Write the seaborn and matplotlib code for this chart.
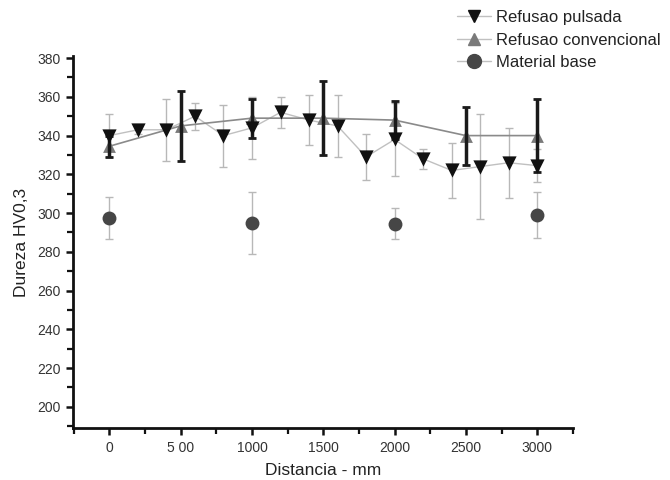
import matplotlib
matplotlib.use("Agg")
import matplotlib.pyplot as plt
from matplotlib.lines import Line2D
from matplotlib.ticker import MultipleLocator
import seaborn as sns
import pandas as pd

# Data
x_puls = [0, 200, 400, 600, 800, 1000, 1200, 1400, 1600, 1800, 2000, 2200, 2400, 2600, 2800, 3000]
y_puls = [340, 343, 343, 350, 340, 344, 352, 348, 345, 329, 338, 328, 322, 324, 326, 324.5]
e_puls = [11, 2, 16, 7, 16, 16, 8, 13, 16, 12, 19, 5, 14, 27, 18, 8.5]

x_conv = [0, 500, 1000, 1500, 2000, 2500, 3000]
y_conv = [334.5, 345, 349, 349, 348, 340, 340]
e_conv = [5.5, 18, 10, 19, 10, 15, 19]

x_base = [0, 1000, 2000, 3000]
y_base = [297.5, 295, 294.5, 299]
e_base = [11, 16, 8, 12]

labels = ["Refusao pulsada", "Refusao convencional", "Material base"]
xtick_labels = ["0", "5 00", "1000", "1500", "2000", "2500", "3000"]

sns.set_style("ticks")
plt.rcParams['font.family'] = ['Liberation Sans', 'DejaVu Sans']

fig = plt.figure(figsize=(6.7, 4.8), dpi=100)
ax = fig.add_axes([0.109, 0.108, 0.746, 0.775])

df_p = pd.DataFrame({"x": x_puls, "y": y_puls})
df_c = pd.DataFrame({"x": x_conv, "y": y_conv})
df_b = pd.DataFrame({"x": x_base, "y": y_base})

# error bars
ax.errorbar(x_puls, y_puls, yerr=e_puls, fmt='none', ecolor='#b8b8b8', elinewidth=1.0,
            capsize=3, capthick=1.0, zorder=1)
ax.errorbar(x_base, y_base, yerr=e_base, fmt='none', ecolor='#b8b8b8', elinewidth=1.0,
            capsize=3, capthick=1.0, zorder=1)

sns.lineplot(data=df_p, x="x", y="y", ax=ax, color='#c0c0c0', linewidth=1.0,
             sort=False, zorder=2, legend=False)
sns.lineplot(data=df_c, x="x", y="y", ax=ax, color='#8a8a8a', linewidth=1.2,
             sort=False, zorder=2, legend=False)

ax.errorbar(x_conv, y_conv, yerr=e_conv, fmt='none', ecolor='#1a1a1a', elinewidth=2.5,
            capsize=3, capthick=2.0, zorder=4)

sns.scatterplot(data=df_c, x="x", y="y", ax=ax, marker='^', s=85, color='#7a7a7a',
                edgecolor='#7a7a7a', linewidth=0, zorder=3, legend=False)
sns.scatterplot(data=df_p, x="x", y="y", ax=ax, marker='v', s=105, color='#111111',
                edgecolor='#111111', linewidth=0, zorder=5, legend=False)
sns.scatterplot(data=df_b, x="x", y="y", ax=ax, marker='o', s=100, color='#464646',
                edgecolor='#464646', linewidth=0, zorder=5, legend=False)

ax.set_xlim(-255, 3250)
ax.set_ylim(189, 381)
ax.xaxis.set_minor_locator(MultipleLocator(250))
ax.yaxis.set_minor_locator(MultipleLocator(10))
ax.set_yticks(range(200, 381, 20))
ax.set_xticks(range(0, 3001, 500))
ax.set_xticklabels(xtick_labels)

for s in ["top", "right"]:
    ax.spines[s].set_visible(False)
for s in ["left", "bottom"]:
    ax.spines[s].set_linewidth(2.0)
    ax.spines[s].set_color('#111111')

ax.tick_params(axis='both', which='major', length=5, width=1.8, color='#111111',
               labelsize=10, labelcolor='#333333', pad=4)
ax.tick_params(axis='both', which='minor', length=4, width=1.6, color='#111111')

ax.set_xlabel("Distancia - mm", fontsize=12.5, color='#222222', labelpad=6)
ax.set_ylabel("Dureza HV0,3", fontsize=12.5, color='#222222', labelpad=6)

handles = [
    Line2D([0], [0], color='#c0c0c0', lw=1, marker='v', markersize=9,
           markerfacecolor='#111111', markeredgecolor='#111111'),
    Line2D([0], [0], color='#c0c0c0', lw=1, marker='^', markersize=8,
           markerfacecolor='#7a7a7a', markeredgecolor='#7a7a7a'),
    Line2D([0], [0], color='#c0c0c0', lw=1, marker='o', markersize=10,
           markerfacecolor='#464646', markeredgecolor='#464646'),
]
fig.legend(handles, labels, loc='upper left', bbox_to_anchor=(0.66, 1.01),
           frameon=False, fontsize=12, handlelength=2.0, handletextpad=0.3,
           labelspacing=0.45, labelcolor='#222222')

fig.savefig("out.png", dpi=100)
